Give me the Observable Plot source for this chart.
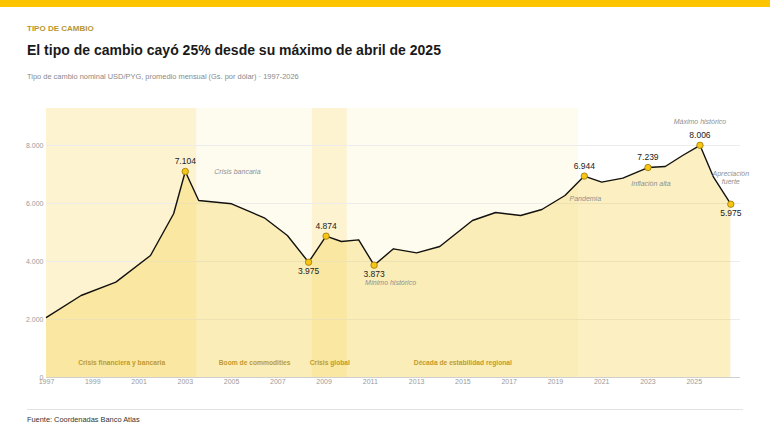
<!DOCTYPE html>
<html>
<head>
<meta charset="utf-8">
<script src="https://cdn.jsdelivr.net/npm/d3@7"></script>
<script src="https://cdn.jsdelivr.net/npm/@observablehq/plot@0.6"></script>
<style>
  html, body { margin:0; padding:0; background:#fff; }
  body { width:770px; height:433px; position:relative; overflow:hidden; font-family:"Liberation Sans", Arial, sans-serif; }
  .bar { position:absolute; left:0; top:0; width:770px; height:7px; background:#fdc500; }
  .kicker { position:absolute; left:27px; top:25px; font-size:8px; line-height:8px; color:#b8962e; font-weight:600; }
  .title { position:absolute; left:27px; top:41px; font-size:14px; line-height:18px; color:#1a1a1a; font-weight:700; }
  .sub { position:absolute; left:27px; top:72px; font-size:7.45px; line-height:9px; color:#8a8a8a; }
  #chart { position:absolute; left:0; top:92px; }
  .rule { position:absolute; left:27px; top:409px; width:716px; height:1px; background:#e3e3e3; }
  .source { position:absolute; left:27px; top:415px; font-size:7.4px; line-height:10px; color:#333; }
</style>
</head>
<body>
<div class="bar"></div>
<div class="kicker">TIPO DE CAMBIO</div>
<div class="title">El tipo de cambio cayó 25% desde su máximo de abril de 2025</div>
<div class="sub">Tipo de cambio nominal USD/PYG, promedio mensual (Gs. por dólar) · 1997-2026</div>
<div id="chart"></div>
<div class="rule"></div>
<div class="source">Fuente: Coordenadas Banco Atlas</div>
<script>
// ---- data ----
const dates = ["1997-01","1998-07","2000-01","2001-07","2002-07","2003-01","2003-08","2005-01","2006-06","2007-06","2008-05","2009-02","2009-10","2010-07","2011-03","2012-01","2013-01","2014-01","2015-06","2016-06","2017-07","2018-06","2019-06","2020-04","2021-01","2021-12","2023-01","2023-10","2024-07","2025-04","2025-11","2026-08"];
const values = [2070,2828,3287,4207,5645,7104,6103,5989,5506,4897,3975,4874,4690,4747,3873,4437,4299,4517,5414,5690,5586,5793,6276,6944,6736,6874,7239,7276,7655,8006,6907,5975];

const keyDates = ["2003-01","2008-05","2009-02","2011-03","2020-04","2023-01","2025-04","2026-08"];
const keyValues = [7104,3975,4874,3873,6944,7239,8006,5975];

const bandNames = ["Crisis financiera y bancaria","Boom de commodities","Crisis global","Década de estabilidad regional"];
const bandStarts = ["1997-01","2003-07","2008-07","2010-01"];
const bandEnds = ["2003-07","2008-07","2010-01","2020-01"];
const bandKinds = ["crisis","calm","crisis","calm"];

const noteTexts = ["Crisis bancaria","Mínimo histórico","Pandemia","Inflación alta","Máximo histórico","Apreciación\nfuerte"];
const noteDates = ["2003-01","2011-03","2020-04","2023-01","2025-04","2026-08"];
const noteValues = [7104,3873,6944,7239,8006,5975];

const yTicks = [0,2000,4000,6000,8000];
const xTickYears = [1997,1999,2001,2003,2005,2007,2009,2011,2013,2015,2017,2019,2021,2023,2025];

// ---- build ----
const parse = d3.utcParse("%Y-%m");
const series = dates.map((d,i) => ({date: parse(d), value: values[i]}));
const belowKeys = ["2008-05","2011-03","2026-08"];
const keys = keyDates.map((d,i) => ({date: parse(d), value: keyValues[i], below: belowKeys.includes(d)}));
const bands = bandNames.map((n,i) => ({name:n, x1: parse(bandStarts[i]), x2: parse(bandEnds[i]), kind: bandKinds[i],
  mid: new Date((parse(bandStarts[i]).getTime() + parse(bandEnds[i]).getTime())/2)}));
const notes = noteTexts.map((t,i) => ({text:t, date: parse(noteDates[i]), value: noteValues[i]}));
const loc = d3.formatLocale({decimal:",", thousands:".", grouping:[3], currency:["",""]});
const fmt = loc.format(",");

const noteOpts = [
  {dx:29, dy:0, anchor:"start"},
  {dx:-9, dy:17, anchor:"start"},
  {dx:1, dy:22, anchor:"middle"},
  {dx:3, dy:16, anchor:"middle"},
  {dx:0, dy:-24, anchor:"middle"},
  {dx:0, dy:-27, anchor:"middle"}
];

const noteMarks = notes.map((n,i) => Plot.text([n], {
  x:"date", y:"value", text:"text", dx: noteOpts[i].dx, dy: noteOpts[i].dy, textAnchor: noteOpts[i].anchor,
  fill:"#8f8f8f", fontStyle:"italic", fontSize:7, lineHeight:1.1
}));

const chart = Plot.plot({
  width: 770,
  height: 310,
  marginLeft: 46,
  marginRight: 30,
  marginTop: 16,
  marginBottom: 25,
  style: {fontFamily: "Liberation Sans, Arial, sans-serif", background: "transparent", overflow:"visible"},
  x: {type:"utc", domain:[parse("1997-01"), parse("2027-01")]},
  y: {domain:[0, 9275]},
  marks: [
    Plot.rect(bands, {x1:"x1", x2:"x2", fill:"#f5c518", fillOpacity: d => d.kind === "crisis" ? 0.2 : 0.07}),
    Plot.gridY([2000,4000,6000,8000], {stroke:"#ececec", strokeOpacity:1, strokeWidth:1}),
    Plot.areaY(series, {x:"date", y:"value", fill:"#f5c518", fillOpacity:0.26, curve:"linear"}),
    Plot.ruleY([0], {stroke:"#cfcfcf", strokeWidth:1}),
    Plot.axisY({ticks: yTicks, tickSize:0, tickPadding:3, tickFormat: fmt, fontSize:7, color:"#9a9a9a", label:null}),
    Plot.axisX({ticks: xTickYears.map(y => new Date(Date.UTC(y,0,1))), tickSize:0, tickPadding:2, tickFormat: d3.utcFormat("%Y"), fontSize:7, color:"#9a9a9a", label:null}),
    Plot.text(bands, {x:"mid", text:"name", frameAnchor:"bottom", dy:-13, fill:"#bf9b2f", fontWeight:"bold", fontSize:6.7}),
    Plot.line(series, {x:"date", y:"value", stroke:"#111", strokeWidth:1.4, curve:"linear"}),
    Plot.dot(keys, {x:"date", y:"value", r:3.2, fill:"#f5c518", stroke:"#9a7600", strokeWidth:0.8}),
    Plot.text(keys, {x:"date", y:"value", text: d => fmt(d.value), fill:"#222", fontSize:8.5, fontWeight:500,
      filter: d => !d.below, dy:-10}),
    Plot.text(keys, {x:"date", y:"value", text: d => fmt(d.value), fill:"#222", fontSize:8.5, fontWeight:500,
      filter: d => d.below, dy:9}),
    ...noteMarks
  ]
});
document.getElementById("chart").appendChild(chart);
</script>
</body>
</html>
